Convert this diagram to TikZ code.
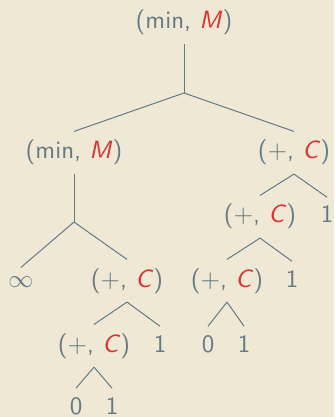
\documentclass[tikz,border=0pt]{standalone}
\usepackage{xcolor}
\definecolor{solbg}{HTML}{EEE8D5}
\definecolor{soltext}{HTML}{657B83}
\definecolor{solred}{HTML}{DC322F}
\newcommand{\opM}{(min, \textcolor{solred}{\textit{M}})}
\newcommand{\opC}{(+, \textcolor{solred}{\textit{C}})}

\begin{document}
\begin{tikzpicture}[x=0.4pt, y=-0.4pt, font=\sffamily, color=soltext,
    every node/.style={anchor=base, text=soltext}]
    \useasboundingbox (0,0) rectangle (334,417);
    \fill[solbg] (0,0) rectangle (334,417);

    % root
    \node (r) at (184,29) {\opM};
    \coordinate (b0) at (184,93);
    \node (l) at (74,159) {\opM};
    \node (rc) at (294,159) {\opC};

    % left subtree
    \coordinate (b1) at (74,222);
    \node (inf) at (21,287) {$\infty$};
    \node (p1) at (127,287) {\opC};
    \node (p3) at (94,352) {\opC};
    \node (one3) at (160,352) {1};
    \node (z2) at (76,414) {0};
    \node (one5) at (112,414) {1};

    % right subtree
    \node (rc1) at (260,223) {\opC};
    \node (one1) at (327,223) {1};
    \node (p2) at (227,287) {\opC};
    \node (one2) at (292,287) {1};
    \node (z1) at (208,352) {0};
    \node (one4) at (244,352) {1};

    \draw (r.south) -- (b0);
    \draw (b0) -- (l.north);
    \draw (b0) -- (rc.north);

    \draw (l.south) -- (b1);
    \draw (b1) -- (inf.north);
    \draw (b1) -- (p1.north);
    \draw (p1.south) -- (p3.north);
    \draw (p1.south) -- (one3.north);
    \draw (p3.south) -- (z2.north);
    \draw (p3.south) -- (one5.north);

    \draw (rc.south) -- (rc1.north);
    \draw (rc.south) -- (one1.north);
    \draw (rc1.south) -- (p2.north);
    \draw (rc1.south) -- (one2.north);
    \draw (p2.south) -- (z1.north);
    \draw (p2.south) -- (one4.north);
\end{tikzpicture}
\end{document}
